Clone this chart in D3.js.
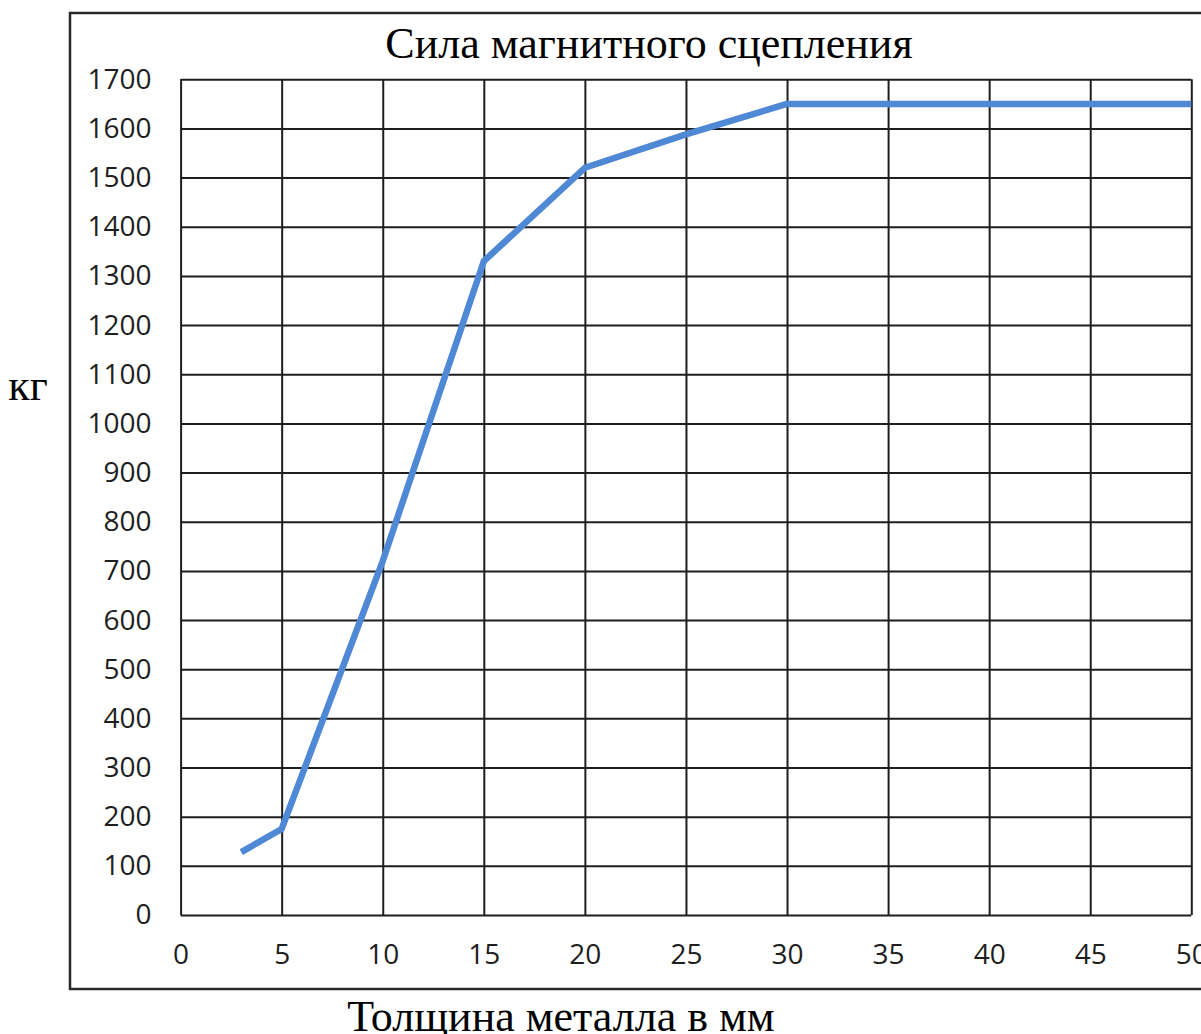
<!DOCTYPE html>
<html lang="ru">
<head>
    <meta charset="UTF-8">
    <title>Сила магнитного сцепления</title>
    <style>
        body {
            margin: 0;
            background: #fff;
        }
        .grid line {
            stroke: #1e1e1e;
            stroke-width: 2px;
        }
        .grid text {
            font-family: "Open Sans", "Liberation Sans", sans-serif;
            font-size: 28px;
            fill: #1e1e1e;
        }
        .caption {
            font-family: "Liberation Serif", "Times New Roman", serif;
            font-size: 44px;
            fill: #000;
        }
    </style>
    <script src="https://d3js.org/d3.v7.min.js"></script>
</head>
<body>
    <div id="chart"></div>

    <script>
        // Данные графика
        const thickness = [3, 5, 10, 15, 20, 25, 30, 35, 40, 45, 50];
        const force = [128, 175, 720, 1330, 1520, 1588, 1650, 1650, 1650, 1650, 1650];
        const xTicks = [0, 5, 10, 15, 20, 25, 30, 35, 40, 45, 50];
        const yTicks = d3.range(0, 1800, 100);

        const width = 1201;
        const height = 1034;

        const svg = d3.select("#chart")
            .append("svg")
            .attr("width", width)
            .attr("height", height);

        // Рамка
        svg.append("rect")
            .attr("x", 70)
            .attr("y", 13)
            .attr("width", 1160)
            .attr("height", 976)
            .attr("fill", "none")
            .attr("stroke", "#2a2a2a")
            .attr("stroke-width", 2.5);

        const x = d3.scaleLinear().domain([0, 50]).range([180.6, 1191.3]);
        const y = d3.scaleLinear().domain([0, 1700]).range([915, 79.3]);

        // Сетка и подписи осей
        svg.append("g")
            .attr("class", "grid")
            .attr("transform", `translate(0,${y(0)})`)
            .call(d3.axisBottom(x)
                .tickValues(xTicks)
                .tickFormat(d3.format("d"))
                .tickSize(-(y(0) - y(1700)))
                .tickPadding(29))
            .call(g => g.select(".domain").remove());

        svg.append("g")
            .attr("class", "grid")
            .attr("transform", `translate(${x(0)},0)`)
            .call(d3.axisLeft(y)
                .tickValues(yTicks)
                .tickFormat(d3.format("d"))
                .tickSize(-(x(50) - x(0)))
                .tickPadding(29))
            .call(g => g.select(".domain").remove());

        // Линия
        const line = d3.line()
            .x((d, i) => x(thickness[i]))
            .y(d => y(d));

        svg.append("path")
            .datum(force)
            .attr("d", line)
            .attr("fill", "none")
            .attr("stroke", "#4f89d6")
            .attr("stroke-width", 6.5)
            .attr("stroke-linejoin", "round");

        // Заголовки
        svg.append("text")
            .attr("class", "caption")
            .attr("x", 649)
            .attr("y", 58)
            .attr("text-anchor", "middle")
            .text("Сила магнитного сцепления");

        svg.append("text")
            .attr("class", "caption")
            .attr("x", 561)
            .attr("y", 1031)
            .attr("text-anchor", "middle")
            .text("Толщина металла в мм");

        svg.append("text")
            .attr("class", "caption")
            .attr("x", 28)
            .attr("y", 400)
            .attr("text-anchor", "middle")
            .text("кг");
    </script>
</body>
</html>
